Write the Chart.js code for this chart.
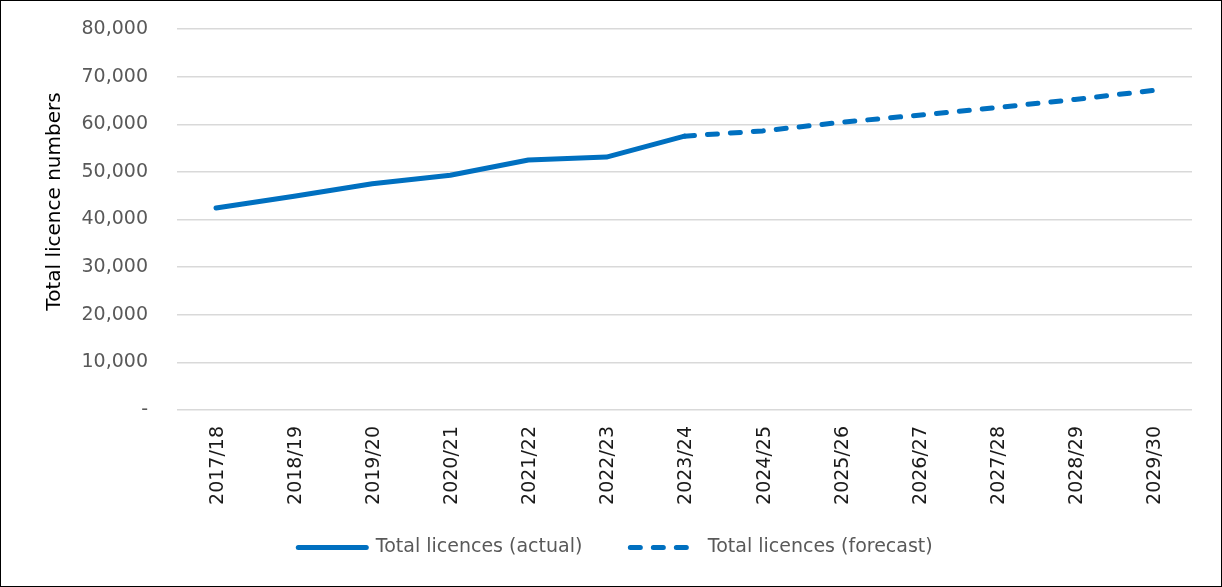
<!DOCTYPE html>
<html>
<head>
<meta charset="utf-8">
<script src="https://cdn.jsdelivr.net/npm/chart.js@4.4.1/dist/chart.umd.min.js"></script>
<style>
    html, body { margin: 0; padding: 0; background: #fff; }
    #frame { width: 1222px; height: 587px; box-sizing: border-box; border: 1px solid #000; }
    canvas { display: block; }
</style>
</head>
<body>
<div id="frame"><canvas id="licences" width="1220" height="585"></canvas></div>
<script>
// financial years on the category axis
const years = ['2017/18', '2018/19', '2019/20', '2020/21', '2021/22', '2022/23', '2023/24',
    '2024/25', '2025/26', '2026/27', '2027/28', '2028/29', '2029/30'];

// recorded totals, then the forecast picking up from the last actual year
const actual = [42400, 44900, 47500, 49300, 52500, 53100, 57500, null, null, null, null, null, null];
const forecast = [null, null, null, null, null, null, 57500, 58600, 60400, 61900, 63500, 65200, 67100];

const yTicks = [0, 10000, 20000, 30000, 40000, 50000, 60000, 70000, 80000];
const yTitle = 'Total licence numbers';

const textColor = '#595959';
const lineColor = '#0070C0';
const fontFamily = '"DejaVu Sans", sans-serif';

// y axis title, drawn a little above the middle of the plot like the Excel original
const yTitlePlugin = {
    id: 'yTitle',
    afterDraw(chart) {
        const { ctx, chartArea } = chart;
        ctx.save();
        ctx.translate(54, (chartArea.top + chartArea.bottom) / 2 - 18);
        ctx.rotate(-Math.PI / 2);
        ctx.font = '20px ' + fontFamily;
        ctx.fillStyle = '#000';
        ctx.textAlign = 'center';
        ctx.textBaseline = 'middle';
        ctx.fillText(yTitle, 0, 0);
        ctx.restore();
    }
};

// the legend keeps wide gaps between items (padding 48), so start its box
// higher up; the same padding would otherwise push the row off the bottom
const legendLift = {
    id: 'legendLift',
    afterLayout(chart) {
        chart.legend.top -= 40;
        chart.legend.height += 40;
    }
};

document.addEventListener("DOMContentLoaded", function () {
    const ctx = document.getElementById("licences").getContext('2d');

    new Chart(ctx, {
        type: 'line',
        data: {
            labels: years,
            datasets: [{
                label: 'Total licences (actual)',
                data: actual,
                borderColor: lineColor,
                backgroundColor: lineColor,
                borderWidth: 5,
                borderCapStyle: 'round',
                borderJoinStyle: 'round',
                fill: false,
                tension: 0,
                pointRadius: 0
            }, {
                label: 'Total licences (forecast)',
                data: forecast,
                borderColor: lineColor,
                backgroundColor: lineColor,
                borderWidth: 5,
                borderDash: [10, 13],
                borderCapStyle: 'round',
                borderJoinStyle: 'round',
                fill: false,
                tension: 0,
                pointRadius: 0
            }]
        },
        plugins: [yTitlePlugin, legendLift],
        options: {
            responsive: false,
            animation: false,
            layout: { padding: { left: 38, right: 29, top: 28, bottom: 16 } },
            plugins: {
                tooltip: { enabled: false },
                legend: {
                    position: 'bottom',
                    maxHeight: 40,
                    labels: {
                        color: textColor,
                        font: { family: fontFamily, size: 19 },
                        usePointStyle: true,
                        pointStyleWidth: 68,
                        boxHeight: 19,
                        padding: 48,
                        // line samples keep the dataset's dash pattern
                        generateLabels: function (chart) {
                            return chart.data.datasets.map((ds, i) => ({
                                text: ds.label,
                                datasetIndex: i,
                                fillStyle: ds.borderColor,
                                strokeStyle: ds.borderColor,
                                fontColor: textColor,
                                lineWidth: 5,
                                lineCap: 'round',
                                lineDash: ds.borderDash || [],
                                pointStyle: 'line',
                                hidden: false
                            }));
                        }
                    }
                }
            },
            scales: {
                x: {
                    offset: true,
                    afterFit: function (scale) { scale.height = 120; },
                    grid: { display: false },
                    border: { display: false },
                    ticks: {
                        color: '#1a1a1a',
                        font: { family: fontFamily, size: 19 },
                        minRotation: 90,
                        maxRotation: 90,
                        padding: 8,
                        labelOffset: 2,
                        autoSkip: false
                    }
                },
                y: {
                    min: 0,
                    max: 80000,
                    afterFit: function (scale) { scale.width = 138; },
                    afterBuildTicks: function (scale) {
                        scale.ticks = yTicks.map(v => ({ value: v }));
                    },
                    grid: {
                        color: '#d9d9d9',
                        lineWidth: 1.5,
                        drawTicks: true,
                        tickLength: 17,
                        tickColor: 'rgba(0,0,0,0)'
                    },
                    border: { display: false },
                    ticks: {
                        color: textColor,
                        font: { family: fontFamily, size: 19 },
                        padding: 12,
                        callback: v => v === 0 ? '-' : v.toLocaleString('en-US')
                    }
                }
            }
        }
    });
});
</script>
</body>
</html>
